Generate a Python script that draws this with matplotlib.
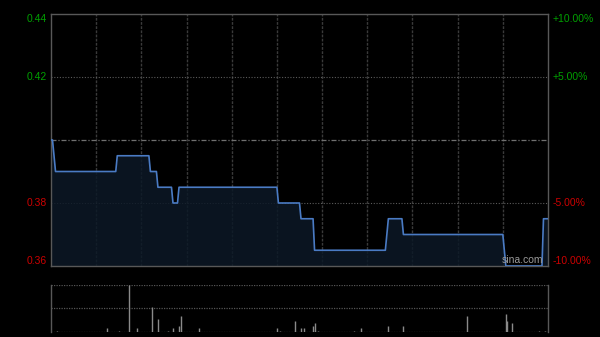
import matplotlib
matplotlib.use('Agg')
import matplotlib.pyplot as plt


PREV_CLOSE = 0.40

# price breakpoints (minutes from 9:30, HK session 330 minutes)
price_minutes = [0, 1, 3, 43, 44, 65, 66, 70, 71, 80, 81, 84, 85, 150, 151,
                 165, 166, 174, 175, 222, 224, 233, 234, 300, 302, 326, 327, 330]
price_values = [0.400, 0.400, 0.390, 0.390, 0.395, 0.395, 0.390, 0.390, 0.385,
                0.385, 0.380, 0.380, 0.385, 0.385, 0.380, 0.380, 0.375, 0.375,
                0.365, 0.365, 0.375, 0.375, 0.370, 0.370, 0.360, 0.360, 0.375,
                0.375]

# volume (relative units, max = 100)
vol_minutes = [4, 37, 45, 52, 57, 67, 71, 78, 81, 85, 86, 98, 150, 152, 162,
               166, 168, 174, 175, 177, 201, 206, 224, 234, 276, 302, 303, 306,
               324, 328]
vol_values = [2, 8, 2, 100, 8, 53, 28, 2, 8, 13, 34, 8, 8, 2, 23,
              8, 8, 13, 19, 2, 2, 8, 13, 13, 34, 38, 23, 19,
              2, 2]

left_ticks = [0.44, 0.42, 0.38, 0.36]
left_labels = ['0.44', '0.42', '0.38', '0.36']
right_labels = ['+10.00%', '+5.00%', '-5.00%', '-10.00%']

GREEN = '#00a000'
RED = '#cc0000'
SPINE = '#585858'


def style_axes(ax):
    ax.set_facecolor('black')
    ax.set_xticks([])
    ax.set_yticks([])
    for spine in ax.spines.values():
        spine.set_color(SPINE)
        spine.set_linewidth(1)


def draw_price(ax):
    style_axes(ax)
    ax.set_xlim(0, 330)
    ax.set_ylim(0.36, 0.44)

    # vertical grid every 30 min
    for m in range(30, 330, 30):
        ax.axvline(m, color='#3a3a3a', lw=1, ls=(0, (2, 1)), zorder=1)
    for y in [0.42, 0.38]:
        ax.axhline(y, color='#5a5a5a', lw=0.8, ls=(0, (1, 1.5)), zorder=1)
    ax.axhline(PREV_CLOSE, color='#707070', lw=0.9, ls=(0, (4, 1.5, 1, 1.5)), zorder=1)

    ax.fill_between(price_minutes, price_values, 0.36, color='#0c1826', alpha=0.85,
                    lw=0, zorder=2)
    ax.plot(price_minutes, price_values, color='#4a7bc4', lw=1.2, zorder=3)

    # axis labels both sides
    for y, lab, rlab in zip(left_ticks, left_labels, right_labels):
        color = GREEN if y > PREV_CLOSE else RED
        va = 'center'
        if y == 0.44:
            va = 'top'
        elif y == 0.36:
            va = 'bottom'
        ax.text(-0.008, y, lab, transform=ax.get_yaxis_transform(), ha='right',
                va=va, color=color, fontsize=7.5, family='Liberation Sans')
        ax.text(1.01, y, rlab, transform=ax.get_yaxis_transform(), ha='left',
                va=va, color=color, fontsize=7.5, family='Liberation Sans')

    ax.text(0.99, 0.005, 'sina.com', transform=ax.transAxes, ha='right', va='bottom',
            color='#9a9a9a', fontsize=7.5, family='Liberation Sans', zorder=4)


def draw_volume(ax):
    style_axes(ax)
    ax.spines['top'].set_visible(False)
    ax.spines['bottom'].set_visible(False)
    ax.set_xlim(0, 330)
    ax.set_ylim(0, 100)
    for y in [0, 50, 100]:
        ax.axhline(y, color='#555555', lw=0.9, ls=(0, (1, 1)), zorder=1)
    ax.vlines(vol_minutes, 0, vol_values, color='#8a8a8a', lw=1, zorder=2)


def main():
    fig = plt.figure(figsize=(6, 3.37), dpi=100, facecolor='black')
    ax_price = fig.add_axes([51 / 600, 1 - 266 / 337, 497 / 600, 252 / 337])
    ax_vol = fig.add_axes([51 / 600, 1 - 331.7 / 337, 497 / 600, 46.7 / 337])
    draw_price(ax_price)
    draw_volume(ax_vol)
    fig.savefig('out.png', dpi=100, facecolor='black')


if __name__ == "__main__":
    main()
